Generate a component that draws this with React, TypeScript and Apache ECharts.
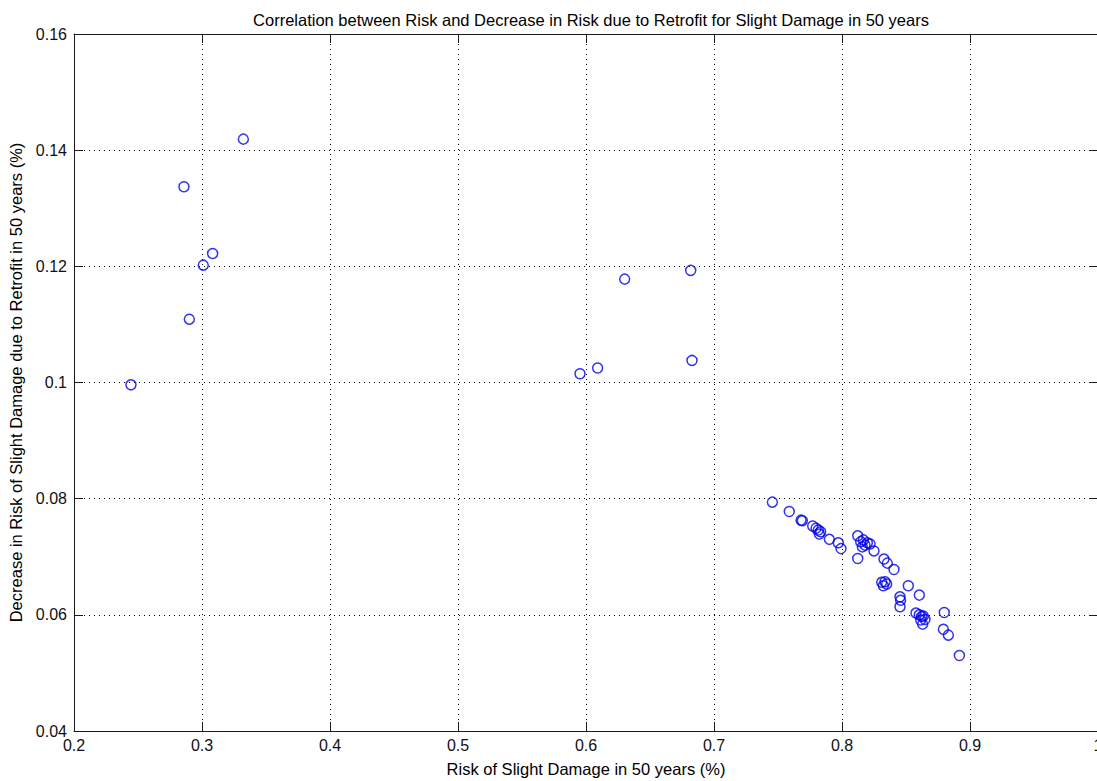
import React, { useEffect, useRef } from "react";
import * as echarts from "echarts";

const titleText =
  "Correlation between Risk and Decrease in Risk due to Retrofit for Slight Damage in 50 years";
const xAxisName = "Risk of Slight Damage in 50 years (%)";
const yAxisName = "Decrease in Risk of Slight Damage due to Retrofit in 50 years (%)";

// Risk of slight damage (x)
const riskValues = [
  0.2445, 0.2859, 0.2901, 0.301, 0.3083, 0.3323,
  0.5953, 0.6091, 0.6302, 0.6818, 0.6828,
  0.7456, 0.7588, 0.768, 0.769,
  0.7771, 0.7797, 0.7815, 0.7833, 0.7823,
  0.7901, 0.7971, 0.7992,
  0.8123, 0.8123,
  0.8146, 0.8167, 0.818, 0.8198, 0.8219, 0.8159,
  0.825, 0.8328, 0.8354, 0.8406,
  0.831, 0.8336, 0.8349, 0.8323,
  0.8518, 0.8604,
  0.8453, 0.8458, 0.8453,
  0.8578, 0.8604, 0.8622, 0.8635, 0.8648, 0.8615, 0.863,
  0.8799, 0.8792, 0.8831, 0.8917,
];

// Decrease in risk due to retrofit (y)
const decreaseValues = [
  0.0996, 0.1337, 0.1109, 0.1202, 0.1222, 0.1419,
  0.1015, 0.1025, 0.1178, 0.1193, 0.1038,
  0.0794, 0.0778, 0.0763, 0.0762,
  0.0753, 0.0749, 0.0746, 0.0743, 0.0739,
  0.073, 0.0724, 0.0714,
  0.0736, 0.0697,
  0.0726, 0.0729, 0.072, 0.0724, 0.0722, 0.0717,
  0.071, 0.0696, 0.0689, 0.0678,
  0.0656, 0.0657, 0.0653, 0.065,
  0.065, 0.0634,
  0.0631, 0.0625, 0.0614,
  0.0603, 0.06, 0.0597, 0.0598, 0.0592, 0.0591, 0.0584,
  0.0604, 0.0575, 0.0565, 0.053,
];

const xMin = 0.2;
const xMax = 1;
const xStep = 0.1;
const yMin = 0.04;
const yMax = 0.16;
const yStep = 0.02;

const FONT = "'Liberation Sans', Arial, Helvetica, sans-serif";

const fmt = (v: number) => String(parseFloat(v.toFixed(4)));

export default function App() {
  const ref = useRef<HTMLDivElement>(null);

  useEffect(() => {
    if (!ref.current) return;
    const chart = echarts.init(ref.current, undefined, { renderer: "svg" });
    const points = riskValues.map((x, i) => [x, decreaseValues[i]]);

    const axisLine = { show: true, lineStyle: { color: "#1a1a1a", width: 1 } };
    const tick = { show: true, inside: true, length: 9, lineStyle: { color: "#1a1a1a", width: 1 } };
    const grid = { show: true, lineStyle: { color: "#000", type: [1, 4] as any, width: 1 } };
    const label = { color: "#111", fontFamily: FONT, fontSize: 16 };

    chart.setOption({
      animation: false,
      backgroundColor: "#fff",
      title: {
        text: titleText,
        left: 586,
        top: 6,
        textAlign: "center",
        textStyle: { color: "#000", fontFamily: FONT, fontSize: 16.5, fontWeight: "normal" },
      },
      grid: {
        left: 74,
        top: 34,
        right: -1,
        bottom: 50,
        containLabel: false,
        outerBoundsMode: "none",
      },
      xAxis: [
        {
          type: "value",
          min: xMin,
          max: xMax,
          interval: xStep,
          position: "bottom",
          name: xAxisName,
          nameLocation: "middle",
          nameGap: 29,
          nameTextStyle: { color: "#000", fontFamily: FONT, fontSize: 16.5 },
          axisLine,
          axisTick: tick,
          axisLabel: { ...label, margin: 6, formatter: (v: number) => fmt(v) },
          splitLine: grid,
        },
        {
          type: "value",
          min: xMin,
          max: xMax,
          interval: xStep,
          position: "top",
          axisLine,
          axisTick: tick,
          axisLabel: { show: false },
          splitLine: { show: false },
        },
      ],
      yAxis: [
        {
          type: "value",
          min: yMin,
          max: yMax,
          interval: yStep,
          position: "left",
          name: yAxisName,
          nameLocation: "middle",
          nameGap: 50,
          nameTextStyle: { color: "#000", fontFamily: FONT, fontSize: 16.5 },
          axisLine,
          axisTick: tick,
          axisLabel: { ...label, margin: 7, formatter: (v: number) => fmt(v) },
          splitLine: grid,
        },
        {
          type: "value",
          min: yMin,
          max: yMax,
          interval: yStep,
          position: "right",
          axisLine,
          axisTick: tick,
          axisLabel: { show: false },
          splitLine: { show: false },
        },
      ],
      series: [
        {
          type: "scatter",
          data: points,
          symbol: "circle",
          symbolSize: 10,
          itemStyle: { color: "rgba(0,0,0,0)", borderColor: "#0000e6", borderWidth: 1.5 },
          emphasis: { disabled: true },
        },
      ],
    });
    return () => chart.dispose();
  }, []);

  return (
    <div
      ref={ref}
      style={{ position: "fixed", left: 0, top: 0, width: 1097, height: 781, background: "#fff" }}
    />
  );
}
